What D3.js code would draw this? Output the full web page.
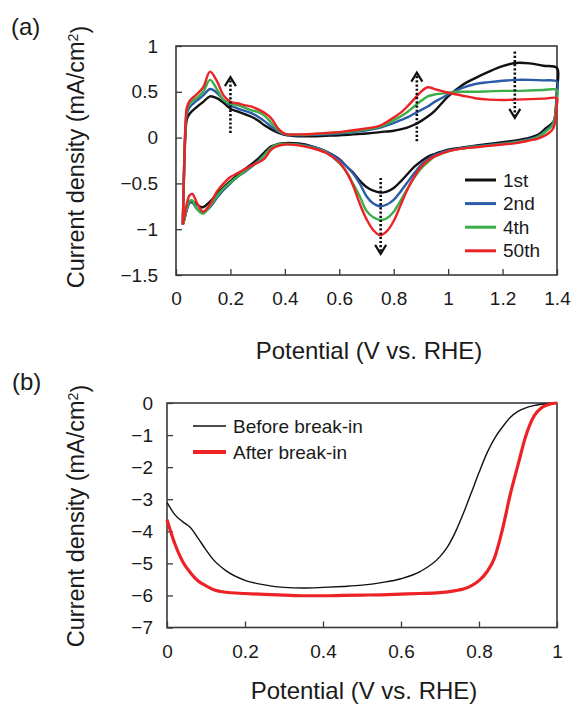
<!DOCTYPE html>
<html><head><meta charset="utf-8">
<script src="https://cdn.jsdelivr.net/npm/d3@7"></script>
<style>
html,body{margin:0;padding:0;background:#fff;}
svg{display:block;font-family:"Liberation Sans",Arial,Helvetica,sans-serif;}
</style></head><body>
<svg id="chart" width="574" height="709"></svg>
<script>
// ---------- Panel (a): cyclic voltammograms ----------
const cvAnodicPotential = [0.025,0.03,0.035,0.04,0.05,0.075,0.10,0.125,0.15,0.175,0.20,0.225,0.25,0.275,0.30,0.325,0.35,0.375,0.40,0.45,0.50,0.55,0.60,0.65,0.70,0.75,0.80,0.825,0.85,0.875,0.90,0.925,0.95,0.975,1.00,1.05,1.10,1.15,1.20,1.25,1.30,1.35,1.40];
const cvCathodicPotential = [1.399,1.395,1.39,1.38,1.36,1.33,1.30,1.25,1.20,1.15,1.10,1.05,1.00,0.95,0.925,0.90,0.875,0.85,0.825,0.80,0.775,0.75,0.725,0.70,0.675,0.65,0.625,0.60,0.55,0.50,0.45,0.40,0.375,0.35,0.325,0.30,0.275,0.25,0.225,0.20,0.175,0.15,0.125,0.10,0.09,0.075,0.06,0.05,0.04,0.03,0.025];

const cycle1Anodic  = [-0.95,-0.35,0.05,0.20,0.26,0.33,0.39,0.45,0.43,0.38,0.315,0.285,0.26,0.23,0.19,0.135,0.09,0.055,0.03,0.015,0.015,0.02,0.025,0.035,0.045,0.06,0.075,0.09,0.11,0.14,0.18,0.23,0.29,0.37,0.45,0.57,0.65,0.72,0.78,0.815,0.81,0.785,0.76];
const cycle2Anodic  = [-0.95,-0.3,0.10,0.26,0.33,0.40,0.46,0.53,0.49,0.41,0.35,0.32,0.295,0.27,0.23,0.18,0.12,0.07,0.035,0.025,0.03,0.035,0.045,0.06,0.08,0.11,0.16,0.19,0.22,0.26,0.30,0.34,0.39,0.43,0.47,0.54,0.585,0.605,0.62,0.63,0.63,0.625,0.61];
const cycle4Anodic  = [-0.95,-0.3,0.12,0.30,0.37,0.43,0.50,0.63,0.53,0.41,0.37,0.355,0.33,0.30,0.28,0.24,0.16,0.08,0.04,0.03,0.035,0.045,0.055,0.07,0.09,0.12,0.19,0.23,0.28,0.34,0.40,0.45,0.47,0.48,0.49,0.50,0.50,0.505,0.51,0.51,0.515,0.52,0.52];
const cycle50Anodic = [-0.95,-0.3,0.15,0.33,0.40,0.47,0.55,0.72,0.62,0.46,0.39,0.375,0.355,0.34,0.31,0.27,0.21,0.10,0.04,0.035,0.04,0.05,0.06,0.08,0.10,0.13,0.22,0.27,0.34,0.42,0.50,0.55,0.53,0.51,0.49,0.46,0.43,0.415,0.41,0.415,0.42,0.425,0.43];

const cycle1Cathodic  = [0.50,0.30,0.19,0.15,0.105,0.03,0.0,-0.03,-0.05,-0.07,-0.088,-0.11,-0.133,-0.18,-0.21,-0.26,-0.32,-0.40,-0.48,-0.55,-0.59,-0.60,-0.58,-0.54,-0.47,-0.38,-0.31,-0.235,-0.15,-0.095,-0.065,-0.06,-0.07,-0.095,-0.16,-0.235,-0.295,-0.35,-0.41,-0.475,-0.54,-0.62,-0.70,-0.76,-0.755,-0.725,-0.70,-0.71,-0.78,-0.90,-0.95];
const cycle2Cathodic  = [0.45,0.28,0.19,0.13,0.08,0.015,-0.015,-0.045,-0.065,-0.08,-0.095,-0.115,-0.14,-0.19,-0.235,-0.30,-0.39,-0.49,-0.59,-0.68,-0.73,-0.75,-0.72,-0.64,-0.50,-0.39,-0.31,-0.24,-0.15,-0.10,-0.075,-0.07,-0.085,-0.11,-0.185,-0.26,-0.325,-0.38,-0.43,-0.50,-0.57,-0.66,-0.76,-0.82,-0.81,-0.77,-0.71,-0.71,-0.78,-0.90,-0.95];
const cycle4Cathodic  = [0.40,0.27,0.18,0.12,0.07,0.005,-0.025,-0.05,-0.07,-0.085,-0.10,-0.12,-0.15,-0.21,-0.27,-0.34,-0.44,-0.56,-0.69,-0.81,-0.88,-0.90,-0.87,-0.80,-0.64,-0.50,-0.37,-0.28,-0.16,-0.11,-0.08,-0.07,-0.075,-0.11,-0.19,-0.27,-0.315,-0.37,-0.43,-0.49,-0.555,-0.64,-0.75,-0.83,-0.82,-0.77,-0.685,-0.69,-0.77,-0.90,-0.95];
const cycle50Cathodic = [0.35,0.22,0.13,0.075,0.03,-0.01,-0.03,-0.06,-0.075,-0.09,-0.105,-0.12,-0.15,-0.205,-0.25,-0.32,-0.43,-0.57,-0.74,-0.91,-1.02,-1.065,-1.01,-0.89,-0.72,-0.52,-0.37,-0.27,-0.165,-0.115,-0.085,-0.075,-0.09,-0.13,-0.23,-0.275,-0.31,-0.35,-0.39,-0.43,-0.50,-0.59,-0.73,-0.81,-0.78,-0.70,-0.615,-0.63,-0.72,-0.87,-0.95];

const cycleLabels = ["1st","2nd","4th","50th"];
const cycleColors = ["#111111","#2a5caa","#3cae49","#ec2227"];

const cvXTicks = [0,0.2,0.4,0.6,0.8,1,1.2,1.4];
const cvYTicks = [-1.5,-1,-0.5,0,0.5,1];

// dotted trend arrows (potential, start current, end current)
const arrowPotential = [0.2, 0.885, 1.245, 0.752];
const arrowFrom      = [0.05, -0.04, 0.94, -0.44];
const arrowTo        = [0.66, 0.71, 0.215, -1.27];

// ---------- Panel (b): linear sweep voltammograms ----------
const lsvPotential = [0,0.02,0.04,0.06,0.08,0.10,0.12,0.15,0.20,0.25,0.30,0.35,0.40,0.45,0.50,0.55,0.60,0.65,0.70,0.72,0.74,0.76,0.78,0.80,0.82,0.84,0.86,0.88,0.90,0.92,0.94,0.96,0.98,1.00];
const beforeBreakIn = [-3.10,-3.48,-3.70,-3.88,-4.22,-4.58,-4.90,-5.22,-5.53,-5.67,-5.75,-5.77,-5.75,-5.72,-5.68,-5.60,-5.48,-5.25,-4.79,-4.47,-4.01,-3.44,-2.81,-2.17,-1.57,-1.10,-0.75,-0.45,-0.26,-0.15,-0.08,-0.04,-0.015,0];
const afterBreakIn  = [-3.64,-4.39,-4.94,-5.29,-5.55,-5.70,-5.82,-5.90,-5.94,-5.97,-5.99,-6.01,-6.01,-6.00,-5.99,-5.98,-5.96,-5.94,-5.91,-5.89,-5.85,-5.80,-5.70,-5.54,-5.27,-4.82,-3.95,-2.86,-1.93,-1.03,-0.43,-0.15,-0.04,0];
const lsvLabels = ["Before break-in","After break-in"];
const lsvColors = ["#111111","#ec2227"];
const lsvWidths = [1.4, 3.2];

const lsvXTicks = [0,0.2,0.4,0.6,0.8,1];
const lsvYTicks = [-7,-6,-5,-4,-3,-2,-1,0];

// ---------- drawing ----------
const svg = d3.select("#chart");
const fmt = d3.format("");
const textColor = "#1a1a1a";
const frameColor = "#3a3a3a";

function drawFrame(g, x, y, xTicks, yTicks, xPad, yPad) {
  const [x0, x1] = x.range();
  const [y0, y1] = y.range();
  const ax = g.append("g").attr("transform", `translate(0,${y0})`)
    .call(d3.axisBottom(x).tickValues(xTicks).tickFormat(fmt).tickSize(-6).tickPadding(xPad));
  const ay = g.append("g").attr("transform", `translate(${x0},0)`)
    .call(d3.axisLeft(y).tickValues(yTicks).tickFormat(fmt).tickSize(-6).tickPadding(yPad));
  [ax, ay].forEach(a => {
    a.select(".domain").remove();
    a.selectAll(".tick line").attr("stroke", frameColor).attr("stroke-width", 1.3);
    a.selectAll(".tick text").attr("fill", textColor).style("font-size", "19px")
      .style("font-family", '"Liberation Sans",Arial,sans-serif');
  });
  g.append("rect").attr("x", x0).attr("y", y1).attr("width", x1 - x0).attr("height", y0 - y1)
    .attr("fill", "none").attr("stroke", frameColor).attr("stroke-width", 1.6);
}

function yTitle(g, cx, cy) {
  const t = g.append("text").attr("transform", `translate(${cx},${cy}) rotate(-90)`)
    .attr("text-anchor", "middle").attr("fill", textColor).style("font-size", "23.5px");
  t.append("tspan").text("Current density (mA/cm");
  t.append("tspan").attr("dy", "-0.45em").style("font-size", "14px").text("2");
  t.append("tspan").attr("dy", "0.45em").text(")");
}
function xTitle(g, cx, cy) {
  g.append("text").attr("x", cx).attr("y", cy).attr("text-anchor", "middle")
    .attr("fill", textColor).style("font-size", "24px").text("Potential (V vs. RHE)");
}

// Panel (a)
const ga = svg.append("g");
const xa = d3.scaleLinear().domain([0, 1.4]).range([176, 557]);
const ya = d3.scaleLinear().domain([-1.5, 1]).range([275, 46]);
drawFrame(ga, xa, ya, cvXTicks, cvYTicks, 17, 18);

const anodic = [cycle1Anodic, cycle2Anodic, cycle4Anodic, cycle50Anodic];
const cathodic = [cycle1Cathodic, cycle2Cathodic, cycle4Cathodic, cycle50Cathodic];
const cvLine = d3.line().x(d => xa(d[0])).y(d => ya(d[1])).curve(d3.curveCatmullRom.alpha(0.5));
cycleLabels.forEach((lab, i) => {
  const pts = cvAnodicPotential.map((v, k) => [v, anodic[i][k]])
    .concat(cvCathodicPotential.map((v, k) => [v, cathodic[i][k]]));
  ga.append("path").attr("d", cvLine(pts)).attr("fill", "none")
    .attr("stroke", cycleColors[i]).attr("stroke-width", 2.4).attr("stroke-linejoin", "round");
});

// arrows
arrowPotential.forEach((v, i) => {
  const px = xa(v), pyA = ya(arrowFrom[i]), pyB = ya(arrowTo[i]);
  const dir = pyB < pyA ? 1 : -1; // 1 = pointing up
  ga.append("line").attr("x1", px).attr("x2", px).attr("y1", pyA).attr("y2", pyB + dir * 1)
    .attr("stroke", "#111").attr("stroke-width", 2.6).attr("stroke-dasharray", "2.2,2");
  ga.append("path")
    .attr("d", `M${px - 5.5},${pyB + dir * 9}L${px},${pyB}L${px + 5.5},${pyB + dir * 9}`)
    .attr("fill", "none").attr("stroke", "#111").attr("stroke-width", 2.2);
});

// legend (a)
cycleLabels.forEach((lab, i) => {
  const yy = 180 + i * 23.6;
  ga.append("line").attr("x1", 465).attr("x2", 496).attr("y1", yy).attr("y2", yy)
    .attr("stroke", cycleColors[i]).attr("stroke-width", 3);
  ga.append("text").attr("x", 503).attr("y", yy).attr("dy", "0.35em").attr("fill", textColor)
    .style("font-size", "19px").text(lab);
});

yTitle(ga, 84, 157);
xTitle(ga, 369, 359);
ga.append("text").attr("x", 11).attr("y", 35).attr("fill", textColor).style("font-size", "24px").text("(a)");

// Panel (b)
const gb = svg.append("g");
const xb = d3.scaleLinear().domain([0, 1]).range([167, 557]);
const yb = d3.scaleLinear().domain([-7, 0]).range([627.5, 403]);
drawFrame(gb, xb, yb, lsvXTicks, lsvYTicks, 17, 14);

const lsvLine = d3.line().x(d => xb(d[0])).y(d => yb(d[1])).curve(d3.curveMonotoneX);
[beforeBreakIn, afterBreakIn].forEach((series, i) => {
  gb.append("path").attr("d", lsvLine(lsvPotential.map((v, k) => [v, series[k]])))
    .attr("fill", "none").attr("stroke", lsvColors[i]).attr("stroke-width", lsvWidths[i])
    .attr("stroke-linejoin", "round");
});

lsvLabels.forEach((lab, i) => {
  const yy = 426 + i * 26;
  gb.append("line").attr("x1", 193).attr("x2", 226).attr("y1", yy).attr("y2", yy)
    .attr("stroke", lsvColors[i]).attr("stroke-width", lsvWidths[i] + (i === 1 ? 0.6 : 0));
  gb.append("text").attr("x", 233).attr("y", yy).attr("dy", "0.35em").attr("fill", textColor)
    .style("font-size", "19px").text(lab);
});

yTitle(gb, 84, 516);
xTitle(gb, 364, 699);
gb.append("text").attr("x", 12).attr("y", 390).attr("fill", textColor).style("font-size", "24px").text("(b)");
</script>
</body></html>
